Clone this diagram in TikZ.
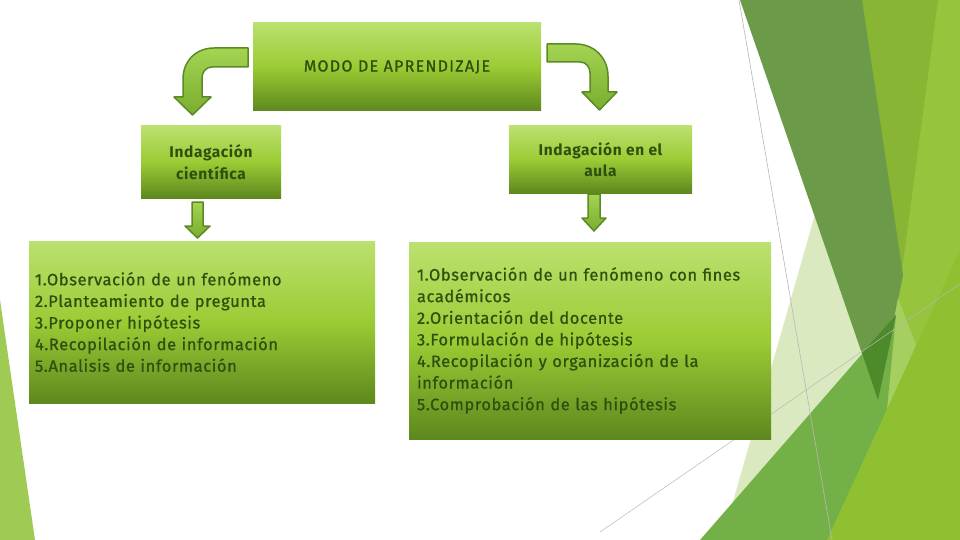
\documentclass[tikz,border=0pt]{standalone}
\usepackage{fontspec}
\setmainfont{Fira Sans}
\newfontfamily\listfam{Fira Sans}[FakeBold=0.7, LetterSpace=3.5]
\newfontfamily\headfam{Fira Sans}[LetterSpace=4]
\newfontfamily\titlefam{Fira Sans}[FakeBold=1.0, LetterSpace=8]
\definecolor{boxtop}{HTML}{BBE16F}
\definecolor{boxmid}{HTML}{9BCB34}
\definecolor{boxbot}{HTML}{5D881E}
\definecolor{txt}{HTML}{2E4F0E}
\definecolor{arrtop}{HTML}{A3D452}
\definecolor{arrbot}{HTML}{7AAD2E}
\definecolor{arrline}{HTML}{5B8A24}
\definecolor{bgsliver}{HTML}{9FCB55}
\definecolor{bglight}{HTML}{96C43C}
\definecolor{bgolive}{HTML}{88B533}
\definecolor{bgpale}{HTML}{DAE9C0}
\definecolor{bgdark}{HTML}{6B9B48}
\definecolor{bgstripe}{HTML}{A6CF62}
\definecolor{bgmed}{HTML}{74B048}
\definecolor{bgdeep}{HTML}{4D8A2A}
\definecolor{bgyellow}{HTML}{8FC031}
\definecolor{bgline}{HTML}{B8B8B8}
\tikzset{
  greenbox/.style={rectangle, top color=boxtop, bottom color=boxbot, middle color=boxmid, text=txt, inner sep=0pt},
  blockarrow/.style={top color=arrtop, bottom color=arrbot, draw=arrline, line width=1.5pt, line join=round},
  headfont/.style={font=\headfam\bfseries\fontsize{15.5}{21.5}\selectfont},
  listfont/.style={font=\listfam\fontsize{16.5}{21.6}\selectfont}
}
\begin{document}
\begin{tikzpicture}[x=1pt,y=-1pt]
\useasboundingbox (0,0) rectangle (960,540);
\fill[white] (0,0) rectangle (960,540);
% background facets
\fill[bgsliver] (0,300) -- (35,540) -- (0,540) -- cycle;
\fill[bglight] (870,0) -- (960,0) -- (960,540) -- (790,540) -- cycle;
\fill[bgolive] (860,0) -- (938,0) -- (900,285) -- cycle;
\fill[bgpale] (822,190) -- (890,360) -- (722,540) -- cycle;
\fill[bgdark] (740,0) -- (862,0) -- (903,275) -- (878,400) -- cycle;
\fill[bgstripe] (898,298) -- (916,345) -- (876,440) -- (880,395) -- cycle;
\fill[bgmed] (700,540) -- (896,315) -- (885,430) -- (860,540) -- cycle;
\fill[bgdeep] (862,353) -- (896,315) -- (878,400) -- cycle;
\fill[bgyellow] (827,540) -- (960,250) -- (960,540) -- cycle;
\draw[bgline, line width=0.6pt] (739,0) -- (832,540);
\draw[bgline, line width=0.5pt] (600,532) -- (960,284);
% boxes
\node[greenbox, minimum width=288, minimum height=88, font=\titlefam\fontsize{16}{19}\selectfont] (modo) at (397,67) {MODO DE APRENDIZAJE};
\node[greenbox, headfont, minimum width=140, minimum height=72, align=center] (cient) at (211,162) {Indagación\\científica};
\node[greenbox, headfont, minimum width=183, minimum height=67, align=center] (aula) at (600.5,159.5) {Indagación en el\\aula};
\node[greenbox, listfont, minimum width=346, minimum height=162, text width=334, inner xsep=6pt, align=left] (lista1) at (202,322) {1.Observación de un fenómeno\\2.Planteamiento de pregunta\\3.Proponer hipótesis\\4.Recopilación de información\\5.Analisis de información};
\node[greenbox, listfont, minimum width=362, minimum height=197, text width=346, inner xsep=8pt, align=left] (lista2) at (590,340.5) {1.Observación de un fenómeno con fines\\académicos\\2.Orientación del docente\\3.Formulación de hipótesis\\4.Recopilación y organización de la\\información\\5.Comprobación de las hipótesis};
% curved arrows
\shadedraw[blockarrow] (248,48) -- (214,48) .. controls (196,48) and (183,61) .. (183,79) -- (183,97) -- (174,97) -- (192.5,115) -- (211,97) -- (202,97) -- (202,78) .. controls (202,72) and (206,67) .. (212,67) -- (248,67) -- cycle;
\shadedraw[blockarrow] (547,44) -- (576,44) .. controls (594,44) and (608,58) .. (608,76) -- (608,92) -- (617,92) -- (599.5,110) -- (582,92) -- (590,92) -- (590,73) .. controls (590,67) and (586,62) .. (580,62) -- (547,62) -- cycle;
% straight arrows
\shadedraw[blockarrow] (192,202) -- (203,202) -- (203,226) -- (210,226) -- (197.5,238) -- (185,226) -- (192,226) -- cycle;
\shadedraw[blockarrow] (588,194) -- (600,194) -- (600,218) -- (606,218) -- (594,231) -- (582,218) -- (588,218) -- cycle;
\end{tikzpicture}
\end{document}
